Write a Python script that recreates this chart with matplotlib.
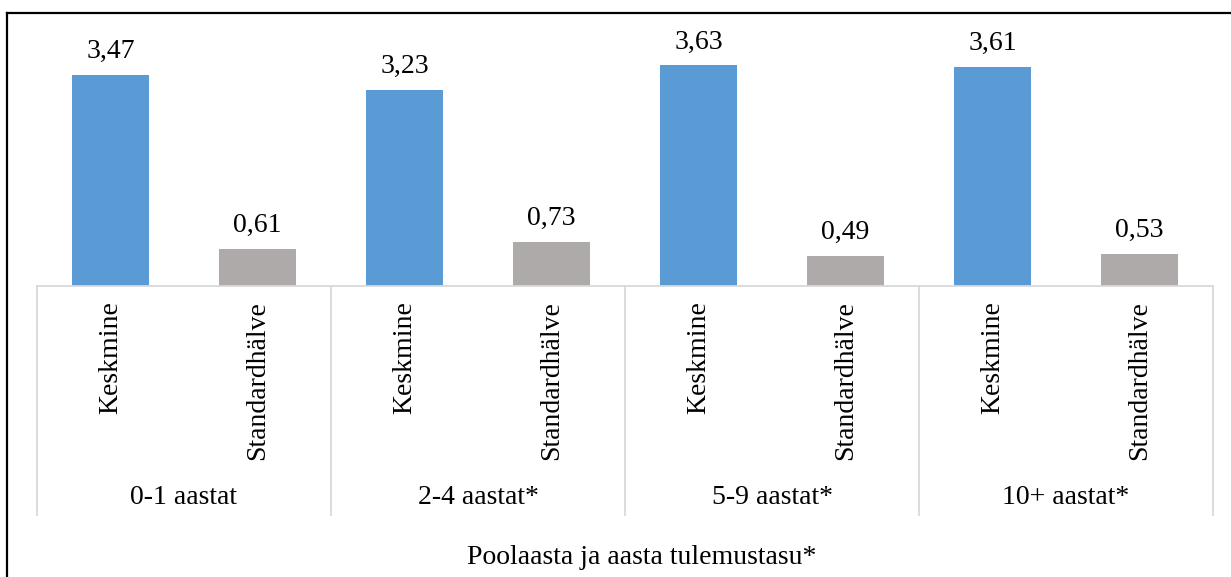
import numpy as np
import matplotlib.pyplot as plt
from matplotlib.lines import Line2D
from matplotlib.transforms import blended_transform_factory

plt.rcParams['font.family'] = ['Liberation Serif', 'DejaVu Serif']

# Data
groups = ["0-1 aastat", "2-4 aastat*", "5-9 aastat*", "10+ aastat*"]
stats = ["Keskmine", "Standardhälve"]
means = [3.47, 3.23, 3.63, 3.61]
sds = [0.61, 0.73, 0.49, 0.53]
axis_title = "Poolaasta ja aasta tulemustasu*"

BLUE = "#5B9BD5"
GRAY = "#AEAAAA"
LINE = "#D9D9D9"
W, H = 1231, 577
FS = 20

fig = plt.figure(figsize=(W / 100, H / 100), dpi=100)
ax = fig.add_axes([37 / W, (H - 286) / H, 1176 / W, 243 / H])

# interleave values: mean, sd for each group
values = []
colors = []
for m, s in zip(means, sds):
    values += [m, s]
    colors += [BLUE, GRAY]
x = np.arange(len(values))

ax.bar(x, values, width=0.52, color=colors, zorder=2)
for xi, v in zip(x, values):
    ax.text(xi, v + 0.28, f"{v:.2f}".replace(".", ","), ha="center", va="baseline",
            fontsize=FS, clip_on=False)

ax.set_xlim(-0.5, len(values) - 0.5)
ax.set_ylim(0, 4)
ax.axis("off")

# category axis drawn by hand (Excel style multi-level)
tr = blended_transform_factory(ax.transData, fig.transFigure)
def fy(py):
    return 1 - py / H

ax.add_line(Line2D([-0.5, len(values) - 0.5], [fy(286), fy(286)], transform=tr,
                   color=LINE, lw=1.3, clip_on=False))
for b in np.arange(-0.5, len(values), 2):
    ax.add_line(Line2D([b, b], [fy(286), fy(515)], transform=tr,
                       color=LINE, lw=1.3, clip_on=False))

for xi in x:
    ax.text(xi, fy(301), stats[xi % 2], rotation=90, ha="center", va="top",
            fontsize=FS, transform=tr)

for gi, g in enumerate(groups):
    ax.text(gi * 2 + 0.5, fy(498), g, ha="center", va="center", fontsize=FS, transform=tr)

fig.text(642 / W, fy(558), axis_title, ha="center", va="center", fontsize=FS)

# chart border (top and left visible)
fig.add_artist(Line2D([7 / W, 1], [fy(13), fy(13)], color="black", lw=1.6))
fig.add_artist(Line2D([7 / W, 7 / W], [fy(13), 0], color="black", lw=1.6))

fig.savefig("out.png", dpi=100)
